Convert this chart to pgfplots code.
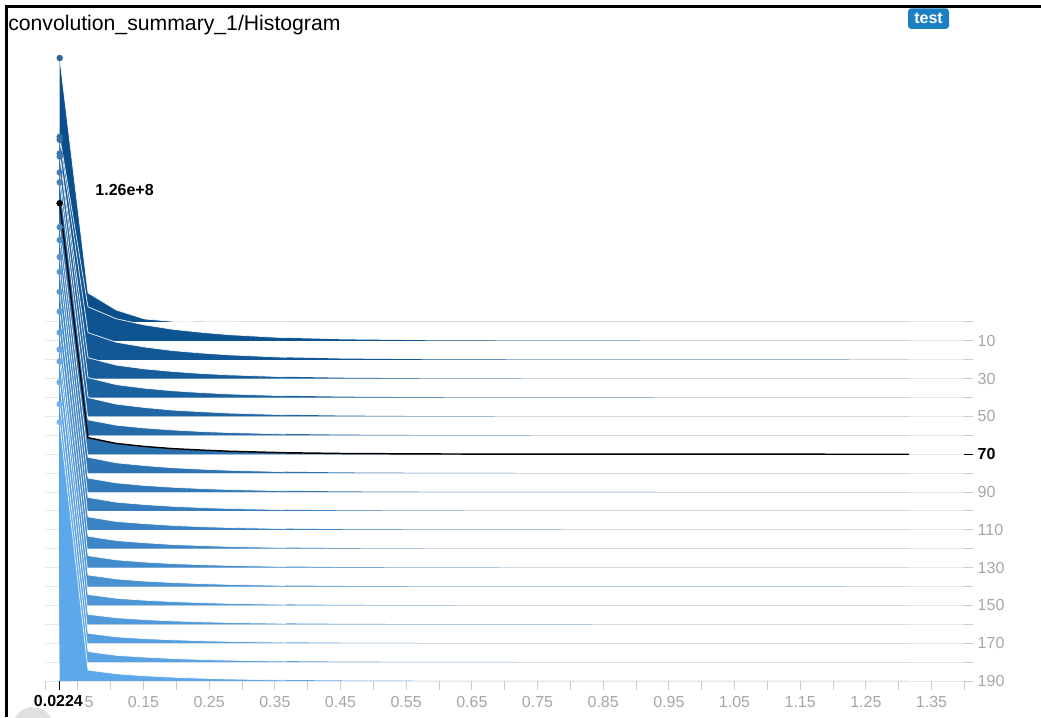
\documentclass[border=0pt]{standalone}
\usepackage{fontspec}
\setmainfont{Liberation Sans}
\usepackage{pgfplots}
\usepackage{pgfplotstable}
\pgfplotsset{compat=1.18}

% one fill colour per recorded step, dark (early) to light (late)
\definecolor{ridge0}{RGB}{10,79,140}
\definecolor{ridge1}{RGB}{14,84,145}
\definecolor{ridge2}{RGB}{19,88,150}
\definecolor{ridge3}{RGB}{23,93,155}
\definecolor{ridge4}{RGB}{27,98,160}
\definecolor{ridge5}{RGB}{32,102,165}
\definecolor{ridge6}{RGB}{36,107,170}
\definecolor{ridge7}{RGB}{41,112,175}
\definecolor{ridge8}{RGB}{45,116,180}
\definecolor{ridge9}{RGB}{49,121,185}
\definecolor{ridge10}{RGB}{54,126,189}
\definecolor{ridge11}{RGB}{58,131,194}
\definecolor{ridge12}{RGB}{62,135,199}
\definecolor{ridge13}{RGB}{67,140,204}
\definecolor{ridge14}{RGB}{71,145,209}
\definecolor{ridge15}{RGB}{76,149,214}
\definecolor{ridge16}{RGB}{80,154,219}
\definecolor{ridge17}{RGB}{84,159,224}
\definecolor{ridge18}{RGB}{89,163,229}
\definecolor{ridge19}{RGB}{93,168,234}
\definecolor{gridgray}{HTML}{E8E8E8}
\definecolor{tickgray}{HTML}{CCCCCC}
\definecolor{labelgray}{HTML}{A6A6A6}
\definecolor{badge}{HTML}{1C7FC3}

% histogram counts (millions) per bin centre; column sN = step 10*N
% first row is the baseline start of each ridge
\pgfplotstableread{
x      s0    s1    s2    s3    s4    s5    s6    s7    s8    s9    s10   s11   s12   s13   s14   s15   s16   s17   s18   s19
0.0224 0     0     0     0     0     0     0     0     0     0     0     0     0     0     0     0     0     0     0     0
0.0224 132.5 102.4 110.4 113.0 121.0 122.5 127.0 126.0 123.5 126.5 127.5 129.5 129.0 128.5 127.5 128.5 132.0 131.0 129.5 130.0
0.0655 14.6  17.1  13.6  10.5  10.0  9.5   7.8   8.3   8.0   7.0   6.8   6.5   6.3   6.0   5.8   5.5   5.0   5.0   5.3   5.5
0.1086 6.0   11.1  8.8   6.8   6.5   6.2   5.1   5.4   5.2   4.6   4.4   4.2   4.1   3.9   3.8   3.6   3.3   3.2   3.4   3.6
0.1517 1.5   8.0   6.4   4.9   4.7   4.5   3.7   3.9   3.8   3.3   3.2   3.1   3.0   2.8   2.7   2.6   2.35  2.3   2.5   2.6
0.1948 0.3   5.8   4.6   3.6   3.4   3.2   2.7   2.8   2.7   2.4   2.3   2.2   2.1   2.0   2.0   1.9   1.7   1.7   1.8   1.9
0.2379 0.13  4.3   3.4   2.6   2.5   2.4   1.95  2.1   2.0   1.75  1.7   1.6   1.6   1.5   1.45  1.4   1.25  1.25  1.3   1.4
0.2810 0.05  3.1   2.45  1.9   1.8   1.7   1.4   1.5   1.44  1.26  1.22  1.17  1.13  1.08  1.04  0.99  0.9   0.9   0.95  1.0
0.3672 0.03  1.54  1.22  0.95  0.9   0.86  0.7   0.75  0.72  0.63  0.61  0.59  0.57  0.54  0.52  0.5   0.45  0.45  0.48  0.5
0.4534 0.01  0.77  0.61  0.47  0.45  0.43  0.35  0.37  0.36  0.32  0.31  0.29  0.28  0.27  0.26  0.25  0.23  0.22  0.24  0.25
0.5827 0.005 0.31  0.24  0.19  0.18  0.17  0.14  0.15  0.14  0.13  0.12  0.12  0.11  0.11  0.10  0.10  0.09  0.09  0.10  0.10
0.7551 0     0.12  0.10  0.07  0.07  0.07  0.05  0.06  0.06  0.05  0.05  0.05  0.04  0.04  0.04  0.04  0.04  0.03  0.04  0.04
0.9706 0     0.05  0.04  0.03  0.03  0.03  0.02  0.02  0.02  0.02  0.02  0.02  0.02  0.02  0.02  0.02  0.02  0.01  0.02  0.02
1.3154 0     0.02  0.01  0.01  0.01  0.01  0.01  0.01  0.01  0.01  0.01  0.01  0.01  0.01  0.01  0.01  0.01  0.01  0.01  0.01
}\hist

\begin{document}
\begin{tikzpicture}
\useasboundingbox (0,0) rectangle (780.75pt,537.75pt);

% card frame, title and run badge
\fill[black!12] (24.75pt,-7.7pt) circle (15.2pt);
\draw[black, line width=2.5pt] (5pt,0) -- (5pt,532.75pt) -- (780.75pt,532.75pt);
\node[anchor=base west, inner sep=0pt, font=\fontsize{15.9}{18}\selectfont] at (6pt,514.5pt) {convolution\_summary\_1/Histogram};
\fill[badge, rounded corners=2.5pt] (681pt,516pt) rectangle (711.75pt,531.5pt);
\node[text=white, font=\bfseries\fontsize{12}{14}\selectfont, inner sep=0pt] at (696.4pt,523.9pt) {test};

\begin{axis}[
  at={(33.75pt,27pt)}, anchor=south west,
  scale only axis, width=689.5pt, height=269.25pt,
  xmin=0, xmax=1.4, ymin=-190, ymax=0,
  clip=false,
  axis line style={draw=none},
  tick align=outside,
  xtick pos=bottom, ytick pos=right, yticklabel pos=right,
  major tick length=6.5pt, minor tick length=6.5pt,
  every tick/.style={tickgray, line width=0.75pt},
  xtick={0.05,0.15,0.25,0.35,0.45,0.55,0.65,0.75,0.85,0.95,1.05,1.15,1.25,1.35},
  xticklabels={0.05,0.15,0.25,0.35,0.45,0.55,0.65,0.75,0.85,0.95,1.05,1.15,1.25,1.35},
  minor xtick={0,0.1,0.2,0.3,0.4,0.5,0.6,0.7,0.8,0.9,1.0,1.1,1.2,1.3,1.4},
  xticklabel style={yshift=-1.5pt},
  ytick={-190,-180,-170,-160,-150,-140,-130,-120,-110,-100,-90,-80,-70,-60,-50,-40,-30,-20,-10,0},
  yticklabels={190,,170,,150,,130,,110,,90,,,,50,,30,,10,},
  ymajorgrids=true,
  major grid style={gridgray, line width=0.75pt},
  tick label style={text=labelgray, font=\fontsize{12}{14}\selectfont},
  /pgf/number format/assume math mode=true,
  extra x ticks={0.0224},
  extra x tick labels={},
  extra x tick style={grid=none, major tick style={black, line width=1pt}},
  extra y ticks={-70},
  extra y tick labels={\textbf{70}},
  extra y tick style={major tick style={black, line width=1pt},
    tick label style={text=black}},
]
% ridges, earliest step at the back
\pgfplotsinvokeforeach{0,...,19}{
  \addplot[fill=ridge#1, draw=none]
    table[x=x, y expr={1.0543*\thisrow{s#1}-#1*10}] {\hist};
  \addplot[white, line width=0.6pt, opacity=0.85,
    restrict expr to domain={\coordindex}{1:8}]
    table[x=x, y expr={1.0543*\thisrow{s#1}-#1*10}] {\hist};
}
% highlighted step 70
\addplot[black, line width=1.1pt, skip coords between index={0}{1}]
  table[x=x, y expr={1.0543*\thisrow{s7}-70}] {\hist};
% peak markers
\pgfplotsinvokeforeach{0,...,19}{
  \addplot[only marks, mark=*, mark size=2.2pt,
    mark options={draw=ridge#1!85!white, fill=ridge#1!85!white},
    restrict expr to domain={\coordindex}{1:1}]
    table[x=x, y expr={1.0543*\thisrow{s#1}-#1*10}] {\hist};
}
\addplot[only marks, mark=*, mark size=2.2pt, mark options={draw=black, fill=black},
  restrict expr to domain={\coordindex}{1:1}]
  table[x=x, y expr={1.0543*\thisrow{s7}-70}] {\hist};
\node[anchor=west, font=\bfseries\fontsize{12}{14}\selectfont, xshift=23.25pt, yshift=9.75pt]
  at (axis cs:0.0224,62.84) {1.26e+8};
\coordinate (hover) at (axis cs:0.0224,-190);
\end{axis}
% hovered bin position, set over the regular tick labels
\node[font=\bfseries\fontsize{12}{14}\selectfont, fill=white, inner sep=1pt, xshift=-1pt, yshift=-15pt]
  at (hover) {0.0224};
\end{tikzpicture}
\end{document}
